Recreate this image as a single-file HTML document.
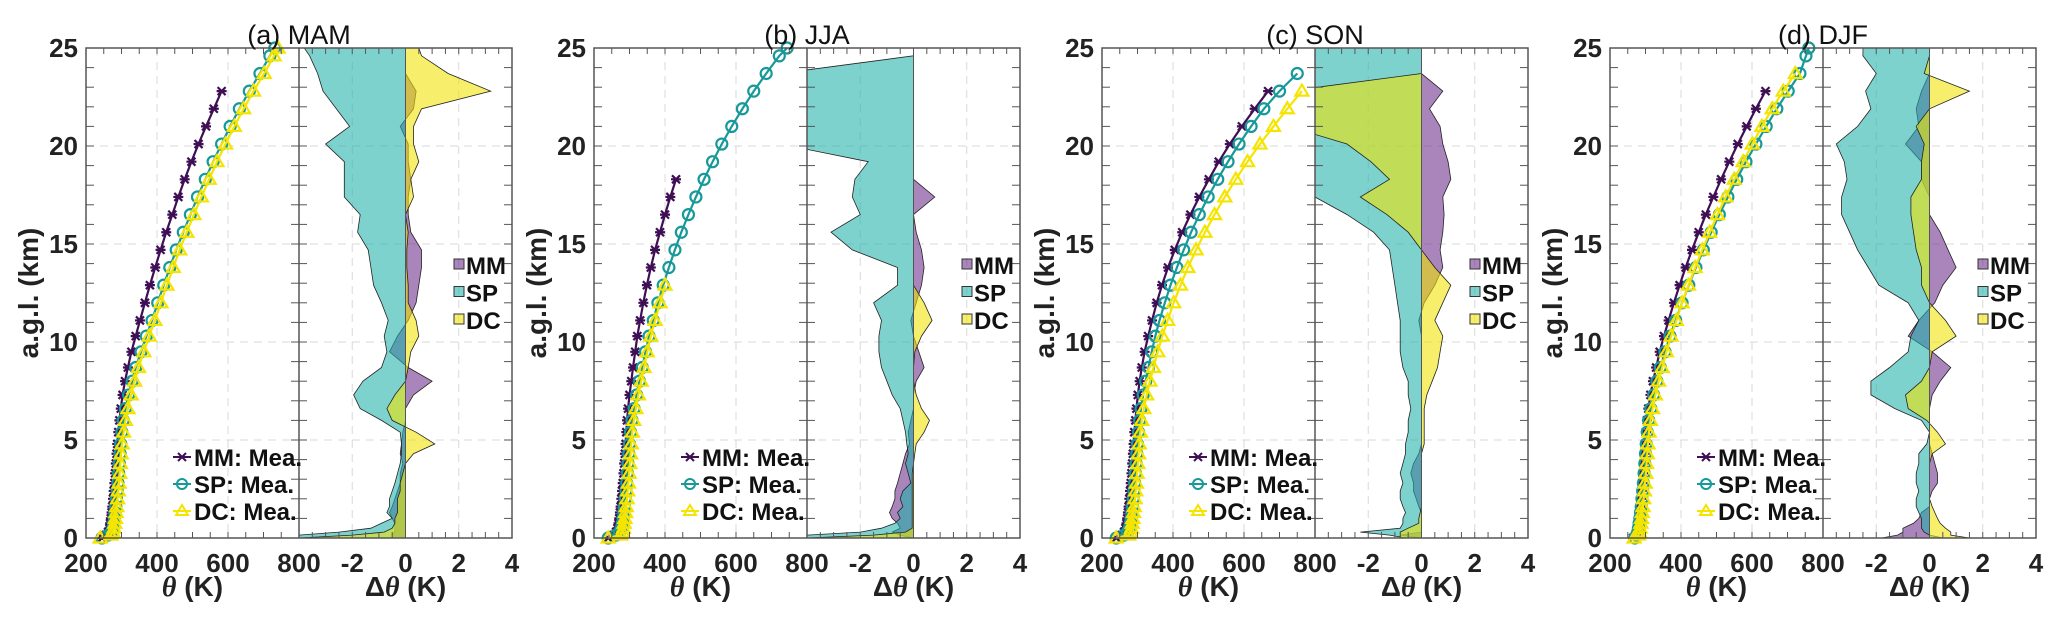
<!DOCTYPE html>
<html><head><meta charset="utf-8"><style>
html,body{margin:0;padding:0;background:#fff;}
svg{display:block;font-family:"Liberation Sans",Arial,sans-serif;}
</style></head><body>
<svg id="chart" width="2067" height="620" viewBox="0 0 2067 620" xmlns="http://www.w3.org/2000/svg"></svg>
<script>
// Height levels (km)
const Z = [0,0.15,0.3,0.5,0.75,1,1.3,1.6,2,2.4,2.8,3.3,3.8,4.3,4.8,5.4,6,6.6,7.3,8,8.7,9.5,10.3,11.1,12,12.9,13.8,14.7,15.6,16.5,17.4,18.3,19.2,20.1,21,21.9,22.8,23.7,24.6,25];
const panelTitles = ["(a) MAM","(b) JJA","(c) SON","(d) DJF"];
const thetaTicks = [200,400,600,800];
const dthetaTicks = [-2,0,2,4];
const yTicks = [0,5,10,15,20,25];
const seriesNames = ["MM","SP","DC"];

// theta (K) measured profiles
const thMM_a = [245,255,262,266,268,270,272,274,276,278,280,282,284,286,288,291,294,298,303,310,318,328,340,352,366,380,395,410,426,443,460,478,497,517,538,560,582];
const thSP_a = [245,262,272,276,278,280,282,284,286,288,290,292,294,296,298,301,305,311,320,330,340,355,370,386,402,419,436,454,474,494,514,536,558,582,606,632,660,690,718,732];
const thDC_a = [240,270,276,279,281,283,285,287,289,291,293,295,297,299,302,306,311,318,327,337,348,363,378,394,411,428,446,464,484,504,525,547,569,593,618,644,672,702,730,741];
const thMM_b = [240,255,262,266,269,271,273,275,277,279,281,283,285,287,289,291,293,296,300,305,310,316,322,330,339,349,360,372,386,400,415,431];
const thSP_b = [240,262,272,277,280,282,284,286,288,290,292,294,296,298,300,303,307,313,320,328,336,345,355,367,380,395,411,428,446,466,487,510,534,560,588,618,650,685,722,744];
const thDC_b = [240,275,280,283,285,287,289,291,293,295,297,299,301,303,305,308,312,318,325,333,341,350,360,372,386,400];
const thMM_c = [240,255,262,266,269,271,273,275,277,279,281,283,285,287,289,291,294,297,301,306,312,320,330,341,354,369,386,405,426,449,474,501,529,560,594,630,668];
const thSP_c = [240,262,272,277,280,282,284,286,288,290,292,294,296,298,300,303,306,310,316,323,331,340,350,362,377,393,411,430,451,474,499,526,555,586,620,656,700,750];
const thDC_c = [240,275,280,283,285,287,289,291,293,295,297,299,301,303,305,308,312,318,326,335,345,357,370,385,402,421,442,465,490,517,546,577,610,645,683,722,763];
const thMM_d = [265,272,275,277,279,281,283,285,287,289,291,293,295,297,299,301,304,308,314,321,330,340,352,365,380,396,413,431,450,470,491,513,536,560,585,611,638];
const thSP_d = [270,275,278,280,282,284,286,288,290,292,294,296,298,300,302,305,309,315,323,332,342,355,369,385,403,422,442,463,485,508,532,557,583,611,640,670,702,735,752,760];
const thDC_d = [268,280,283,285,287,289,291,293,295,297,299,301,303,305,307,310,314,320,328,337,347,359,372,387,403,421,440,460,481,503,526,550,575,601,628,657,688,722];

// delta theta (K)
const dMM_a = [-0.5,-0.5,-0.4,-0.4,-0.4,-0.5,-0.6,-0.5,-0.4,-0.3,-0.2,-0.2,-0.1,-0.2,-0.15,-0.1,0,0,0.3,1.0,0.1,-0.6,-0.3,0.1,0.4,0.5,0.6,0.6,0.2,0.1,0.1,0.2,0.1,0.1,-0.2,0.3,0.4,0,0,0];
const dSP_a = [-4,-4,-2.5,-1.3,-0.9,-0.5,-0.7,-0.6,-0.6,-0.5,-0.4,-0.3,-0.2,-0.15,-0.15,-0.2,-0.9,-1.7,-1.95,-1.6,-0.9,-0.7,-0.8,-0.65,-0.9,-1.2,-1.3,-1.4,-1.8,-1.7,-2.3,-2.3,-2.3,-3.0,-2.1,-2.6,-3.1,-3.3,-3.6,-3.8];
const dDC_a = [-4,-2,-0.8,-0.5,-0.4,-0.4,-0.3,-0.3,-0.3,-0.2,-0.2,-0.1,0,0.3,1.1,0.4,-0.5,-0.7,-0.4,0,0.1,0.2,0.5,0.4,0.1,0.1,0.05,0.05,0.1,0,0.3,0.2,0.5,0.3,0.3,0.6,3.2,1.6,0.6,0.5];
const dMM_b = [0,-0.5,-0.8,-0.5,-0.6,-0.8,-0.9,-0.8,-0.7,-0.7,-0.6,-0.5,-0.4,-0.3,-0.15,-0.2,-0.1,0,0,0.1,0.4,0.2,0,-0.1,0.1,0.3,0.4,0.3,0.1,0,0.8,0,0,0,0,0,0,0,0,0];
const dSP_b = [-4,-4,-2,-1.2,-0.7,-0.5,-0.6,-0.4,-0.5,-0.4,-0.1,-0.2,-0.3,-0.2,-0.25,-0.3,-0.4,-0.5,-0.8,-1.0,-1.2,-1.3,-1.3,-1.2,-1.5,-0.6,-0.6,-2.3,-3.1,-2.0,-2.3,-2.2,-1.7,-5,-5,-5,-5,-5,0,0];
const dDC_b = [-4,-1.5,-0.3,-0.05,-0.05,-0.05,-0.05,-0.05,-0.05,-0.05,-0.05,-0.05,0,0.05,0.1,0.4,0.6,0.3,0.1,0,0,0.05,0.3,0.7,0.4,0,0,0,0,0,0,0,0,0,0,0,0,0,0,0];
const dMM_c = [0,-0.8,0,0,0,0,0,-0.1,-0.2,-0.3,-0.3,-0.4,-0.3,-0.1,0,0,0,0,0,0,0,0,0,-0.1,0.1,0.5,0.8,0.7,0.8,0.85,0.8,1.1,1.0,0.8,0.7,0.3,0.8,0,0,0];
const dSP_c = [-0.6,-1.2,-2.3,-0.8,-0.7,-0.7,-0.6,-0.7,-0.8,-0.8,-0.7,-0.8,-0.7,-0.6,-0.6,-0.5,-0.5,-0.4,-0.5,-0.5,-0.7,-0.8,-0.8,-0.8,-0.9,-1.0,-1.1,-1.2,-1.8,-2.8,-4,-5,-5,-5,-5,-5,-5,-5,-5,-5];
const dDC_c = [-0.8,-0.8,-0.8,-0.5,-0.1,-0.1,-0.05,0,0,0,0,0,0,0,0.1,0.1,0.1,0.1,0.2,0.4,0.6,0.7,0.8,0.5,0.8,1.1,0.5,0,-0.5,-1.3,-2.3,-1.2,-1.9,-2.8,-5,-5,-5,0,0,0];
const dMM_d = [-1.8,-1.2,-1.0,-1.0,-0.6,-0.4,-0.3,0,0,0.1,0.3,0.3,0.2,0.1,0,0,0,0,0.1,0.4,0.8,0.1,-0.8,-0.4,0.2,0.5,1.0,0.7,0.4,0,0,-0.3,-0.3,-0.9,-0.4,-0.5,-0.3,0,0,0];
const dSP_d = [0.5,0,-0.2,-0.3,-0.3,-0.3,-0.4,-0.5,-0.5,-0.4,-0.5,-0.5,-0.4,-0.4,-0.1,0,-0.3,-1.3,-2.2,-2.2,-1.5,-0.8,-0.7,-0.4,-0.8,-1.9,-2.3,-2.7,-3.0,-3.3,-3.3,-3.1,-3.2,-3.5,-2.7,-2.2,-2.4,-2.0,-2.5,-2.5];
const dDC_d = [1.5,0.8,0.8,0.6,0.4,0.3,0.2,0.1,0,0,0,0,0,0.1,0.6,0.3,-0.1,-0.8,-0.9,-0.3,0,0.1,1.0,0.6,0,-0.3,-0.3,-0.5,-0.6,-0.7,-0.7,-0.3,-0.3,-0.2,-0.5,0,1.5,-0.2,0,0];

const thetaSets = [[thMM_a,thSP_a,thDC_a],[thMM_b,thSP_b,thDC_b],[thMM_c,thSP_c,thDC_c],[thMM_d,thSP_d,thDC_d]];
const dSets = [[dMM_a,dSP_a,dDC_a],[dMM_b,dSP_b,dDC_b],[dMM_c,dSP_c,dDC_c],[dMM_d,dSP_d,dDC_d]];

const NS = "http://www.w3.org/2000/svg";
const svg = document.getElementById("chart");
function mk(tag, attrs, parent){const e=document.createElementNS(NS,tag);for(const k in attrs)e.setAttribute(k,attrs[k]);(parent||svg).appendChild(e);return e;}

const lineCol = ["#3f0f55","#17999a","#f5e400"];
const fillCol = ["#6a2c8a","#20b2aa","#f2e400"];
const panelLeft = [86,594,1102,1610];
const W = 213, TOP = 48, BOT = 538;
const yS = z => BOT - z/25*(BOT-TOP);

panelLeft.forEach((L,p)=>{
  const g = mk("g",{});
  
  
  const xT = v => L + (v-200)/600*W;
  const M = L + W, R = L + 2*W;
  const xD = v => M + (v+4)/8*W;
  const clipId = "clip"+p;
  const defs = mk("defs",{},g);
  const cp = mk("clipPath",{id:clipId},defs);
  mk("rect",{x:M,y:TOP,width:W,height:BOT-TOP},cp);
  const cp2 = mk("clipPath",{id:clipId+"t"},defs);
  mk("rect",{x:L,y:TOP-8,width:W+2,height:BOT-TOP+16},cp2);
  // grid
  [5,10,15,20].forEach(z=>{mk("line",{x1:L,x2:R,y1:yS(z),y2:yS(z),stroke:"#d8d8d8","stroke-dasharray":"8,6","stroke-width":1},g);});
  [400,600].forEach(v=>mk("line",{x1:xT(v),x2:xT(v),y1:TOP,y2:BOT,stroke:"#d8d8d8","stroke-dasharray":"8,6"},g));
  [-2,2].forEach(v=>mk("line",{x1:xD(v),x2:xD(v),y1:TOP,y2:BOT,stroke:"#d8d8d8","stroke-dasharray":"8,6"},g));
  // delta fills
  const dg = mk("g",{"clip-path":"url(#"+clipId+")"},g);
  dSets[p].forEach((arr,s)=>{
    let d = "M"+xD(0)+","+yS(Z[0]);
    arr.forEach((v,i)=>{d+=" L"+xD(v).toFixed(1)+","+yS(Z[i]).toFixed(1);});
    d += " L"+xD(0)+","+yS(Z[arr.length-1])+" Z";
    const a = mk("path",{d:d,fill:fillCol[s],"fill-opacity":0.58,stroke:"#222","stroke-width":0.8},dg);
    
    
  });
  mk("line",{x1:xD(0),x2:xD(0),y1:TOP,y2:BOT,stroke:"#555","stroke-width":1},g);
  // theta lines
  const tg = mk("g",{"clip-path":"url(#"+clipId+"t)"},g);
  thetaSets[p].forEach((arr,s)=>{
    const pts = arr.map((v,i)=>xT(v).toFixed(1)+","+yS(Z[i]).toFixed(1)).join(" ");
    const pl = mk("polyline",{points:pts,fill:"none",stroke:lineCol[s],"stroke-width":2.2},tg);
    
    
    arr.forEach((v,i)=>{
      const x=xT(v), y=yS(Z[i]);
      let m;
      if(s===0){m=mk("path",{d:`M${x-4},${y-4}L${x+4},${y+4}M${x-4},${y+4}L${x+4},${y-4}M${x-5},${y}L${x+5},${y}`,stroke:lineCol[0],"stroke-width":2.2},tg);}
      else if(s===1){m=mk("circle",{cx:x,cy:y,r:5.5,fill:"none",stroke:lineCol[1],"stroke-width":2.2},tg);}
      else {m=mk("path",{d:`M${x},${y-6.5}L${x+6.5},${y+4.5}L${x-6.5},${y+4.5}Z`,fill:"none",stroke:lineCol[2],"stroke-width":2.2},tg);}
      
      
    });
  });
  // axes boxes
  mk("rect",{x:L,y:TOP,width:2*W,height:BOT-TOP,fill:"none",stroke:"#555","stroke-width":1.5},g);
  mk("line",{x1:M,x2:M,y1:TOP,y2:BOT,stroke:"#555","stroke-width":1.5},g);
  for(let z=0;z<=25;z++){const y=yS(z);
    [[L,8],[M,-8],[M,8],[R,-8]].forEach(([x,dx])=>mk("line",{x1:x,x2:x+dx,y1:y,y2:y,stroke:"#555"},g));}
  for(let v=200;v<=800;v+=50){const x=xT(v);mk("line",{x1:x,x2:x,y1:BOT,y2:BOT-6,stroke:"#555"},g);mk("line",{x1:x,x2:x,y1:TOP,y2:TOP+6,stroke:"#555"},g);}
  for(let v=-4;v<=4;v+=0.5){const x=xD(v);mk("line",{x1:x,x2:x,y1:BOT,y2:BOT-6,stroke:"#555"},g);mk("line",{x1:x,x2:x,y1:TOP,y2:TOP+6,stroke:"#555"},g);}
  // tick labels
  yTicks.forEach(z=>{const t=mk("text",{x:L-8,y:yS(z)+9,"text-anchor":"end","font-size":26,"font-weight":"bold",fill:"#222"},g);t.textContent=z;});
  thetaTicks.forEach(v=>{const t=mk("text",{x:xT(v),y:572,"text-anchor":"middle","font-size":26,"font-weight":"bold",fill:"#222"},g);t.textContent=v;});
  dthetaTicks.forEach(v=>{const t=mk("text",{x:xD(v),y:572,"text-anchor":"middle","font-size":26,"font-weight":"bold",fill:"#222"},g);t.textContent=v;});
  // axis titles
  const yt = mk("text",{x:0,y:0,transform:`translate(${L-48},${yS(12.5)}) rotate(-90)`,"text-anchor":"middle","font-size":28,"font-weight":"bold",fill:"#222"},g);
  yt.textContent="a.g.l. (km)";
  
  
  const xt1 = mk("text",{x:L+W/2,y:596,"text-anchor":"middle","font-size":28,"font-weight":"bold",fill:"#222"},g);
  xt1.innerHTML='<tspan font-style="italic" font-family="Liberation Serif,serif">θ</tspan> (K)';
  
  
  const xt2 = mk("text",{x:M+W/2,y:596,"text-anchor":"middle","font-size":28,"font-weight":"bold",fill:"#222"},g);
  xt2.innerHTML='Δ<tspan font-style="italic" font-family="Liberation Serif,serif">θ</tspan> (K)';
  
  
  const ti = mk("text",{x:M,y:44,"text-anchor":"middle","font-size":27,fill:"#111"},g);
  ti.textContent=panelTitles[p];
  
  
  // left legend
  const lg = mk("g",{},g);
  
  
  ["MM: Mea.","SP: Mea.","DC: Mea."].forEach((lab,s)=>{
    const y = 457 + s*27, x0 = L+89, x1 = L+103, xc=(x0+x1)/2;
    mk("line",{x1:x0-2,x2:x1+2,y1:y,y2:y,stroke:lineCol[s],"stroke-width":2},lg);
    if(s===0) mk("path",{d:`M${xc-4},${y-4}L${xc+4},${y+4}M${xc-4},${y+4}L${xc+4},${y-4}`,stroke:lineCol[0],"stroke-width":2},lg);
    else if(s===1) mk("circle",{cx:xc,cy:y,r:5,fill:"none",stroke:lineCol[1],"stroke-width":2},lg);
    else mk("path",{d:`M${xc},${y-6}L${xc+6},${y+4}L${xc-6},${y+4}Z`,fill:"none",stroke:lineCol[2],"stroke-width":2},lg);
    const t = mk("text",{x:x1+5,y:y+9,"font-size":24,"font-weight":"bold",fill:"#111"},lg);
    t.textContent=lab;
    
    
  });
  // right legend
  const rg = mk("g",{},g);
  
  
  seriesNames.forEach((n,s)=>{
    const y = 265 + s*27.5;
    mk("rect",{x:M+155,y:y-6,width:10,height:10,fill:fillCol[s],"fill-opacity":0.58,stroke:"#333","stroke-width":1},rg);
    const t = mk("text",{x:M+167,y:y+9,"font-size":24,"font-weight":"bold",fill:"#111"},rg);
    t.textContent=n;
    
    
  });
});
</script>
</body></html>
